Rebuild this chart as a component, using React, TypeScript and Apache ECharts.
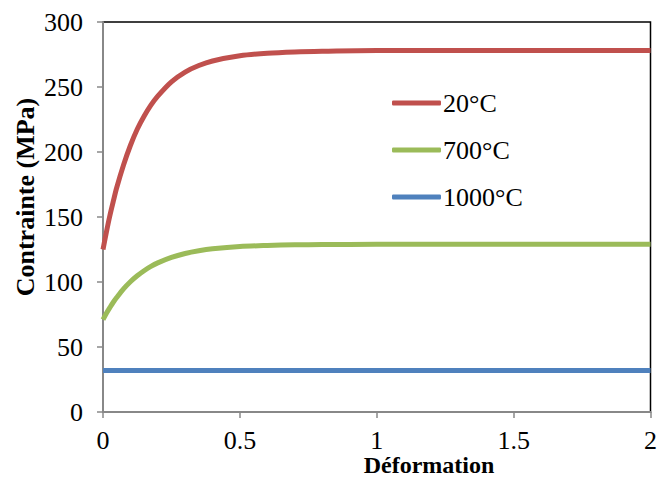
import React, { useEffect, useRef } from "react";
import * as echarts from "echarts";

const strain = [0, 0.0125, 0.025, 0.0375, 0.05, 0.075, 0.1, 0.125, 0.15, 0.175, 0.2, 0.25, 0.3, 0.35, 0.4, 0.5, 0.6, 0.7, 0.8, 1.0, 1.5, 2.0];
const s20 = [125, 138.5, 151, 162, 172.5, 190, 205, 217.5, 227.5, 236, 243, 254, 261.5, 266.5, 270, 274, 276, 277, 277.5, 278, 278, 278];
const s700 = [71, 76, 80.3, 84.4, 88, 94.7, 100.2, 104.8, 108.7, 112, 114.7, 118.9, 121.9, 124, 125.5, 127.3, 128.1, 128.6, 128.8, 129, 129, 129];
const s1000 = [32, 32, 32, 32, 32, 32, 32, 32, 32, 32, 32, 32, 32, 32, 32, 32, 32, 32, 32, 32, 32, 32];
const seriesNames = ["20°C", "700°C", "1000°C"];
const colors = ["#C0504D", "#9BBB59", "#4F81BD"];
const xTitle = "Déformation";
const yTitle = "Contrainte (MPa)";

const FONT = "'Liberation Serif', 'Times New Roman', serif";

export default function App() {
  const ref = useRef<HTMLDivElement>(null);
  useEffect(() => {
    if (!ref.current) return;
    const chart = echarts.init(ref.current, undefined, { renderer: "svg" });
    const all = [s20, s700, s1000];
    chart.setOption({
      animation: false,
      backgroundColor: "#fff",
      textStyle: { fontFamily: FONT },
      grid: {
        left: 103,
        right: 6,
        top: 22,
        bottom: 66,
        show: true,
        borderColor: "#000",
        borderWidth: 1.5,
        backgroundColor: "transparent",
      },
      legend: {
        orient: "vertical",
        left: 392,
        top: 88,
        padding: 0,
        itemWidth: 49,
        itemHeight: 5,
        itemGap: 17,
        icon: "roundRect",
        data: seriesNames,
        textStyle: {
          fontFamily: FONT,
          fontSize: 26,
          color: "#000",
          lineHeight: 30,
          padding: [0, 0, 0, -3],
        },
      },
      xAxis: {
        type: "value",
        min: 0,
        max: 2,
        interval: 0.5,
        splitLine: { show: false },
        axisLine: { show: true, lineStyle: { color: "#888", width: 2 } },
        axisTick: { show: true, length: 6, lineStyle: { color: "#888", width: 1.5 } },
        axisLabel: { fontFamily: FONT, fontSize: 26, lineHeight: 20, color: "#000", margin: 18 },
      },
      yAxis: {
        type: "value",
        min: 0,
        max: 300,
        interval: 50,
        splitLine: { show: false },
        axisLine: { show: true, lineStyle: { color: "#888", width: 2 } },
        axisTick: { show: true, length: 6, lineStyle: { color: "#888", width: 1.5 } },
        axisLabel: { fontFamily: FONT, fontSize: 26, color: "#000", margin: 20 },
      },
      series: all.map((vals, i) => ({
        name: seriesNames[i],
        type: "line",
        smooth: 0.3,
        showSymbol: false,
        symbol: "none",
        lineStyle: { color: colors[i], width: 5 },
        itemStyle: { color: colors[i] },
        data: strain.map((x, j) => [x, vals[j]]),
        z: 3,
      })),
      graphic: [
        {
          type: "text",
          x: 429,
          y: 465,
          style: {
            text: xTitle,
            font: `bold 24px ${FONT}`,
            lineHeight: 18,
            fill: "#000",
            align: "center",
            verticalAlign: "middle",
          },
        },
        {
          type: "text",
          x: 25,
          y: 197,
          rotation: Math.PI / 2,
          style: {
            text: yTitle,
            font: `bold 26px ${FONT}`,
            fill: "#000",
            align: "center",
            verticalAlign: "middle",
          },
        },
      ],
    });
    return () => chart.dispose();
  }, []);
  return (
    <div
      ref={ref}
      style={{ position: "fixed", left: 0, top: 0, width: 660, height: 478, background: "#fff" }}
    />
  );
}
